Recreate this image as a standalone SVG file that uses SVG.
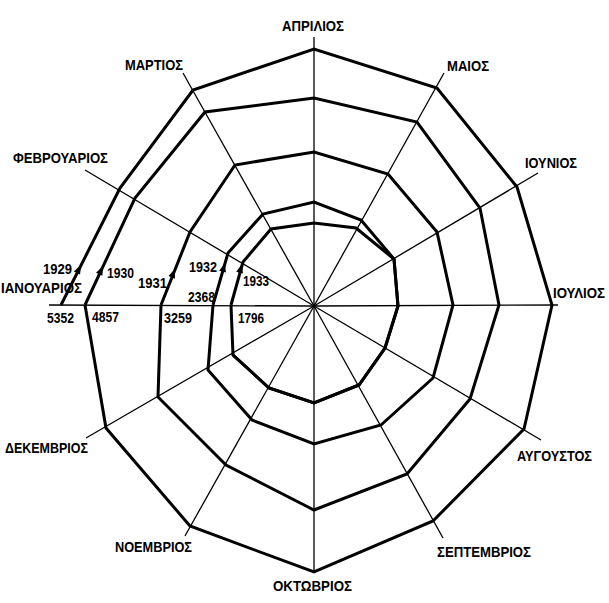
<svg xmlns="http://www.w3.org/2000/svg" xmlns:xlink="http://www.w3.org/1999/xlink" width="609" height="603" viewBox="0 0 609 603">
<style>
.spoke{stroke:#000;stroke-width:1.3;fill:none}
.yr{stroke:#000;stroke-width:3;fill:none;stroke-linejoin:miter;stroke-miterlimit:6}
.mon{font-family:"Liberation Sans",Arial,sans-serif;font-weight:bold;font-size:14.5px;fill:#000}
.num{font-family:"Liberation Sans",Arial,sans-serif;font-weight:bold;font-size:14px;fill:#000}
</style>
<defs>
<path id="ah" d="M0,0 L-9,-3.5 L-9,3.5 Z" fill="#000"/>
</defs>
<rect width="609" height="603" fill="#fff"/>
<g id="connectors">
<g id="spokes">
<line class="spoke" x1="314" y1="306" x2="49" y2="305"/>
<line class="spoke" x1="314" y1="306" x2="85" y2="170"/>
<line class="spoke" x1="314" y1="306" x2="183" y2="73"/>
<line class="spoke" x1="314" y1="306" x2="314" y2="37"/>
<line class="spoke" x1="314" y1="306" x2="444" y2="73"/>
<line class="spoke" x1="314" y1="306" x2="538" y2="173"/>
<line class="spoke" x1="314" y1="306" x2="558" y2="305"/>
<line class="spoke" x1="314" y1="306" x2="541" y2="440"/>
<line class="spoke" x1="314" y1="306" x2="443" y2="538"/>
<line class="spoke" x1="314" y1="306" x2="314" y2="572"/>
<line class="spoke" x1="314" y1="306" x2="185" y2="536"/>
<line class="spoke" x1="314" y1="306" x2="86" y2="438"/>
</g>
<g id="spiral">
<polyline id="y1929" class="yr" points="61,305 120,188 193,90 314,49 437,88 517,187 552,305 524,429 433,521 314,572 190,526 106,428 85,305"/>
<polyline id="y1930" class="yr" points="85,305 135,198 205,112 314,98 417,122 480,208 499,305 470,399 407,474 314,510 226,465 158,397 161,305"/>
<polyline id="y1931" class="yr" points="161,305 190,232 235,165 314,152 388,174 437,232 453,305 433,378 381,425 314,444 252,420 208,370 213,305"/>
<polyline id="y1932" class="yr" points="213,305 228,253 263,214 314,202 361,220 394,259 398,306 385,348 359,385 314,403 269,388 233,355 231,305"/>
<polyline id="y1933" class="yr" points="231,305 243,262 271,229 314,223 356,228 394,259 398,306 385,348 359,385 314,403 269,388 233,355"/>
</g>
<g id="arrows">
<use xlink:href="#ah" transform="translate(81,265) rotate(-63.2)"/>
<use xlink:href="#ah" transform="translate(103,266) rotate(-65)"/>
<use xlink:href="#ah" transform="translate(175,269) rotate(-68.3)"/>
<use xlink:href="#ah" transform="translate(225,263) rotate(-73.9)"/>
<use xlink:href="#ah" transform="translate(242,264) rotate(-74.4)"/>
</g>
</g>
<g id="months">
<g id="m-apr"><text class="mon" x="282" y="31" textLength="62" lengthAdjust="spacingAndGlyphs">ΑΠΡΙΛΙΟΣ</text></g>
<g id="m-may"><text class="mon" x="447" y="71" textLength="42" lengthAdjust="spacingAndGlyphs">ΜΑΙΟΣ</text></g>
<g id="m-jun"><text class="mon" x="525" y="168" textLength="52" lengthAdjust="spacingAndGlyphs">ΙΟΥΝΙΟΣ</text></g>
<g id="m-jul"><text class="mon" x="553" y="298" textLength="52" lengthAdjust="spacingAndGlyphs">ΙΟΥΛΙΟΣ</text></g>
<g id="m-aug"><text class="mon" x="517" y="461" textLength="75" lengthAdjust="spacingAndGlyphs">ΑΥΓΟΥΣΤΟΣ</text></g>
<g id="m-sep"><text class="mon" x="437" y="557" textLength="94" lengthAdjust="spacingAndGlyphs">ΣΕΠΤΕΜΒΡΙΟΣ</text></g>
<g id="m-oct"><text class="mon" x="273" y="591" textLength="79" lengthAdjust="spacingAndGlyphs">ΟΚΤΩΒΡΙΟΣ</text></g>
<g id="m-nov"><text class="mon" x="115" y="552" textLength="77" lengthAdjust="spacingAndGlyphs">ΝΟΕΜΒΡΙΟΣ</text></g>
<g id="m-dec"><text class="mon" x="5" y="453" textLength="83" lengthAdjust="spacingAndGlyphs">ΔΕΚΕΜΒΡΙΟΣ</text></g>
<g id="m-jan"><text class="mon" x="1" y="293" textLength="81" lengthAdjust="spacingAndGlyphs">ΙΑΝΟΥΑΡΙΟΣ</text></g>
<g id="m-feb"><text class="mon" x="13" y="163" textLength="95" lengthAdjust="spacingAndGlyphs">ΦΕΒΡΟΥΑΡΙΟΣ</text></g>
<g id="m-mar"><text class="mon" x="125" y="70" textLength="58" lengthAdjust="spacingAndGlyphs">ΜΑΡΤΙΟΣ</text></g>
</g>
<g id="years">
<text class="num" x="43" y="274" textLength="29" lengthAdjust="spacingAndGlyphs">1929</text>
<text class="num" x="107" y="278" textLength="27" lengthAdjust="spacingAndGlyphs">1930</text>
<text class="num" x="138" y="288" textLength="29" lengthAdjust="spacingAndGlyphs">1931</text>
<text class="num" x="189" y="272" textLength="28" lengthAdjust="spacingAndGlyphs">1932</text>
<text class="num" x="243" y="286" textLength="26" lengthAdjust="spacingAndGlyphs">1933</text>
</g>
<g id="values">
<text class="num" x="47" y="323" textLength="27" lengthAdjust="spacingAndGlyphs">5352</text>
<text class="num" x="92" y="322" textLength="27" lengthAdjust="spacingAndGlyphs">4857</text>
<text class="num" x="164" y="323" textLength="28" lengthAdjust="spacingAndGlyphs">3259</text>
<text class="num" x="188" y="302" textLength="27" lengthAdjust="spacingAndGlyphs">2368</text>
<text class="num" x="238" y="323" textLength="26" lengthAdjust="spacingAndGlyphs">1796</text>
</g>
</svg>
